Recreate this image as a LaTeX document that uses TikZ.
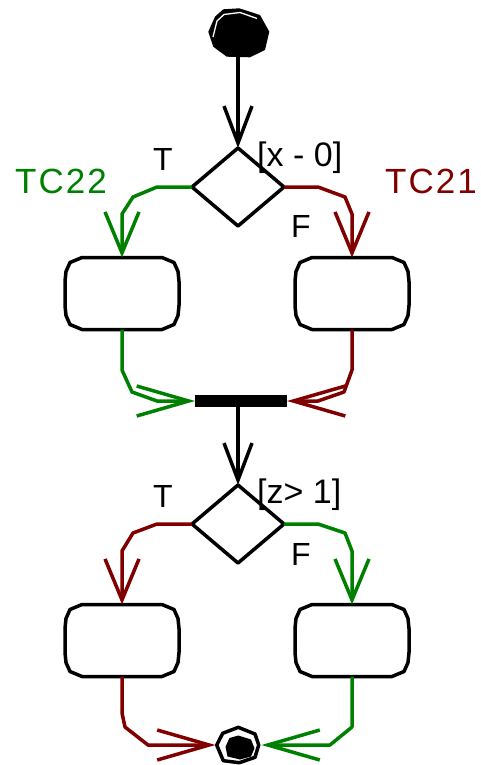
\documentclass[tikz,border=0pt]{standalone}
\usepackage{fontspec}
\setmainfont{Liberation Sans}
\usetikzlibrary{arrows.meta,shapes.geometric}
\definecolor{flowgreen}{RGB}{0,128,0}
\definecolor{flowred}{RGB}{128,0,0}

% outline of an action state, drawn around the named node
\newcommand\actframe[1]{%
  \draw[line width=3.5pt,shift={(#1.center)}]
    (-40,-36) -- (40,-36) -- (52,-31) -- (56,-22) -- (57,-12) -- (57,12)
    -- (56,22) -- (52,31) -- (40,36) -- (-40,36) -- (-52,31) -- (-56,22)
    -- (-57,12) -- (-57,-12) -- (-56,-22) -- (-52,-31) -- cycle;}

\begin{document}
\begin{tikzpicture}[x=1pt,y=-1pt,line join=round,
  act/.style={rectangle,minimum width=114pt,minimum height=72pt,
    inner sep=0pt,outer sep=0pt},
  decision/.style={diamond,draw,line width=3.5pt,minimum width=92pt,
    minimum height=78pt,inner sep=0pt,outer sep=0pt},
  syncbar/.style={rectangle,fill=black,minimum width=92pt,minimum height=12pt,
    inner sep=0pt,outer sep=0pt},
  terminal/.style={circle,minimum size=#1,inner sep=0pt,outer sep=0pt},
  flow/.style={line width=3.5pt},
  tipdown/.style={-{Straight Barb[length=41pt,width=34pt]}},
  tipmain/.style={-{Straight Barb[length=37pt,width=28pt]}},
  tipside/.style={-{Straight Barb[length=52pt,width=30pt]}},
  lbl/.style={font=\fontsize{32}{32}\selectfont,inner sep=0pt,anchor=base},
  guard/.style={font=\fontsize{34}{34}\selectfont,inner sep=0pt,anchor=base west},
  tclbl/.style={font=\fontsize{35}{35}\selectfont,inner sep=0pt,anchor=base west},
]
\useasboundingbox (0,0) rectangle (480,765);

% nodes
\node[terminal=49pt] (start) at (238,33) {};
\node[decision] (d1) at (238,187) {};
\node[act] (b1) at (122,293.5) {};
\node[act] (b2) at (352,293.5) {};
\node[syncbar] (bar) at (241,401) {};
\node[decision] (d2) at (238,524) {};
\node[act] (b3) at (122,640.5) {};
\node[act] (b4) at (352,640.5) {};
\node[terminal=46pt] (endn) at (238.5,745) {};

\actframe{b1}
\actframe{b2}
\actframe{b3}
\actframe{b4}

% initial state: filled polygon with a thin highlight
\fill[black] (223.3,9.3) -- (239.3,8.3) -- (260,15) -- (269.3,31.7) -- (265,50)
  -- (250,57.3) -- (226.7,56.7) -- (213.3,46.7) -- (208.3,31.7) -- (215,16.7) -- cycle;
\draw[white,line width=1.3pt] (213,37) -- (217,21) -- (224,14.5) -- (240,12.5) -- (257,18.5);

% final state: ring and filled core
\draw[line width=3.5pt] (238.3,727.3) -- (255,734) -- (258.7,745) -- (255,757.3)
  -- (239.3,762.7) -- (223.3,760.7) -- (216.7,745) -- (222.7,733.3) -- cycle;
\fill[black] (238.3,735.5) -- (251,739.5) -- (254.5,748.3) -- (251,756.5)
  -- (240,759.5) -- (227.5,756.5) -- (225.5,746.7) -- (229.5,738) -- cycle;

% control flow
\draw[flow,tipmain] (start) -- (d1.north);
\draw[flow,flowgreen,tipdown] (d1.west) -- (157,187) -- (133,197) -- (122,214) -- (b1.north);
\draw[flow,flowred,tipdown] (d1.east) -- (318,187) -- (345,197) -- (352,214) -- (b2.north);
\draw[flow,flowgreen,tipside] (b1.south) -- (122,370) -- (132,392) -- (157,401) -- (bar.west);
\draw[flow,flowred,tipside] (b2.south) -- (352,370) -- (344,392) -- (318,401) -- (bar.east);
\draw[flow,tipmain] (bar.south -| d2.north) -- (d2.north);
\draw[flow,flowred,tipdown] (d2.west) -- (157,524) -- (133,533) -- (122,551) -- (b3.north);
\draw[flow,flowgreen,tipdown] (d2.east) -- (318,524) -- (345,533) -- (352,551) -- (b4.north);
\draw[flow,flowred,tipside] (b3.south) -- (122,713) -- (125,727) -- (148,745) -- (endn.west);
\draw[flow,flowgreen,tipside] (b4.south) -- (352,727) -- (330,745) -- (endn.east);

% labels
\node[lbl] (t1) at (163,170) {T};
\node[lbl] (f1) at (301,237) {F};
\node[guard] (g1) at (257,166) {[x - 0]};
\node[tclbl,text=flowgreen] (tc22) at (15,193) {T\kern2pt C\kern2pt 2\kern2pt 2};
\node[tclbl,text=flowred] (tc21) at (385,193) {T\kern2pt C\kern2pt 2\kern2pt 1};
\node[lbl] (t2) at (163,507) {T};
\node[lbl] (f2) at (301,565) {F};
\node[guard] (g2) at (257,503) {[z> 1]};
\end{tikzpicture}
\end{document}
